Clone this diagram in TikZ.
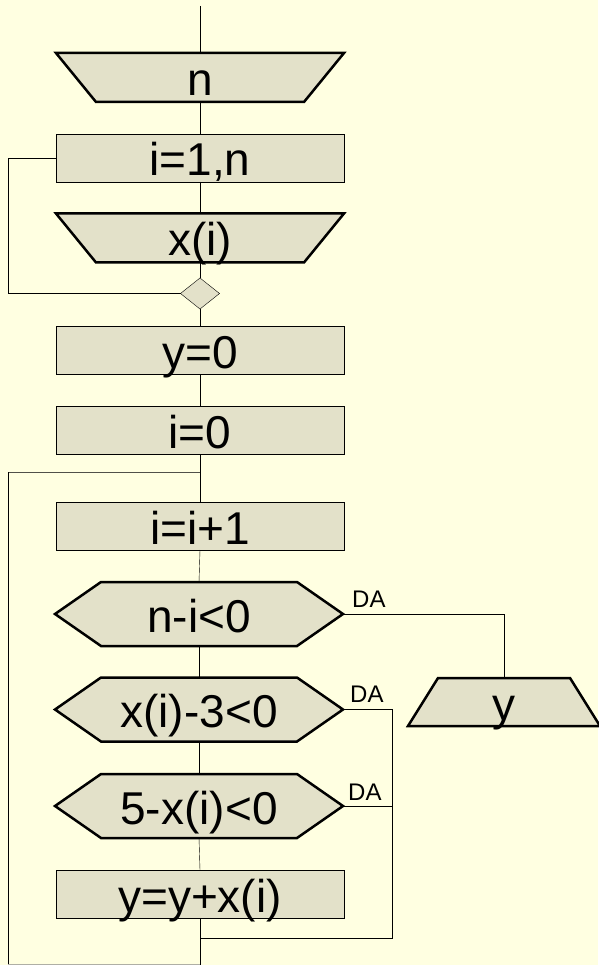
\documentclass[tikz,border=0pt]{standalone}
\usepackage{fontspec}
\setmainfont{Liberation Sans}
\usetikzlibrary{shapes.geometric}
\definecolor{pagebg}{RGB}{255,255,225}
\definecolor{shapefill}{RGB}{227,225,201}
\definecolor{looptop}{RGB}{80,80,72}
\definecolor{faintline}{RGB}{175,175,165}
\pgfdeclarelayer{bg}
\pgfsetlayers{bg,main}
\begin{document}
\begin{tikzpicture}[x=1pt,y=-1pt,
  line width=2.5pt, line join=miter,
  txt/.style={inner sep=0pt, outer sep=0pt, font=\fontsize{46}{50}\selectfont, text height=42pt, text depth=6pt},
  procbox/.style={txt, draw, fill=shapefill, minimum width=288pt, minimum height=48pt},
  iobox/.style={txt, minimum width=288pt, minimum height=49pt, text height=42.5pt, text depth=6.5pt},
  hexbox/.style={txt, minimum width=288pt, minimum height=64pt, text height=50pt, text depth=14pt},
  joinmark/.style={diamond, draw, fill=shapefill, inner sep=0pt, outer sep=0pt, minimum width=39pt, minimum height=31pt},
  shapeline/.style={draw, fill=shapefill, line width=2.5pt},
  yeslabel/.style={inner sep=0pt, anchor=base west, font=\fontsize{24}{26}\selectfont},
]
\begin{pgfonlayer}{bg}
\fill[pagebg] (0,0) rectangle (598,965);
\end{pgfonlayer}
\useasboundingbox (0,0) rectangle (598,965);

% nodes
\node[iobox] (nin) at (200,77.5) {n};
\node[procbox] (loop1) at (200,158) {i=1,n};
\node[iobox] (xin) at (200,238) {x(i)};
\node[joinmark] (dm) at (200,293.5) {};
\node[procbox] (y0) at (200,350) {y=0};
\node[procbox] (i0) at (200,430) {i=0};
\node[procbox] (inc) at (200,526) {i=i+1};
\node[hexbox] (h1) at (199,614) {n-i<0};
\node[hexbox] (h2) at (199,709.5) {x(i)-3<0};
\node[hexbox] (h3) at (199,806) {5-x(i)<0};
\node[procbox] (sum) at (200,894) {y=y+x(i)};
\node[txt, minimum width=192pt, minimum height=48pt] (yout) at (504,702) {y};

% outlines of the non-rectangular shapes
\begin{pgfonlayer}{bg}
\foreach \t in {nin,xin}{
  \path[shapeline] (\t.north west) -- (\t.north east) -- ([xshift=-40pt]\t.south east) -- ([xshift=40pt]\t.south west) -- cycle;
}
\foreach \h in {h1,h2,h3}{
  \path[shapeline] (\h.west) -- ([xshift=46pt]\h.north west) -- ([xshift=-46pt]\h.north east) -- (\h.east) -- ([xshift=-46pt]\h.south east) -- ([xshift=46pt]\h.south west) -- cycle;
}
\path[shapeline] ([xshift=30pt]yout.north west) -- ([xshift=-30pt]yout.north east) -- (yout.south east) -- (yout.south west) -- cycle;
\end{pgfonlayer}

% labels
\node[yeslabel] (da1) at (352,607) {DA};
\node[yeslabel] (da2) at (350,702) {DA};
\node[yeslabel] (da3) at (348,800) {DA};

% coordinates
\coordinate (top) at (200,6);
\coordinate (lp1) at (8,293.5);
\coordinate (j1) at (200,472);
\coordinate (lt) at (8,472);
\coordinate (lp2) at (8,964);
\coordinate (j2) at (200,964);
\coordinate (bot) at (200,966);
\coordinate (rr) at (392,938);
\coordinate (j3) at (200,938);

% connectors
\draw (top) -- (nin.north);
\draw (nin.south) -- (loop1.north);
\draw (loop1.south) -- (xin.north);
\draw (xin.south) -- (dm.north);
\draw (loop1.west) -| (lp1) -- (dm.west);
\draw (dm.south) -- (y0.north);
\draw (y0.south) -- (i0.north);
\draw (i0.south) -- (inc.north);
\draw[looptop] (j1) -- (lt);
\draw (lt) -- (lp2);
\draw[faintline] (lp2) -- (j2);
\draw (inc.south) -- (h1.north);
\draw (h1.south) -- (h2.north);
\draw (h2.south) -- (h3.north);
\draw (h3.south) -- (sum.north);
\draw (sum.south) -- (bot);
\draw (h1.east) -| (yout.north);
\draw (h2.east) -| (rr) -- (j3);
\draw (h3.east) -- (h3.east -| rr);
\end{tikzpicture}
\end{document}
